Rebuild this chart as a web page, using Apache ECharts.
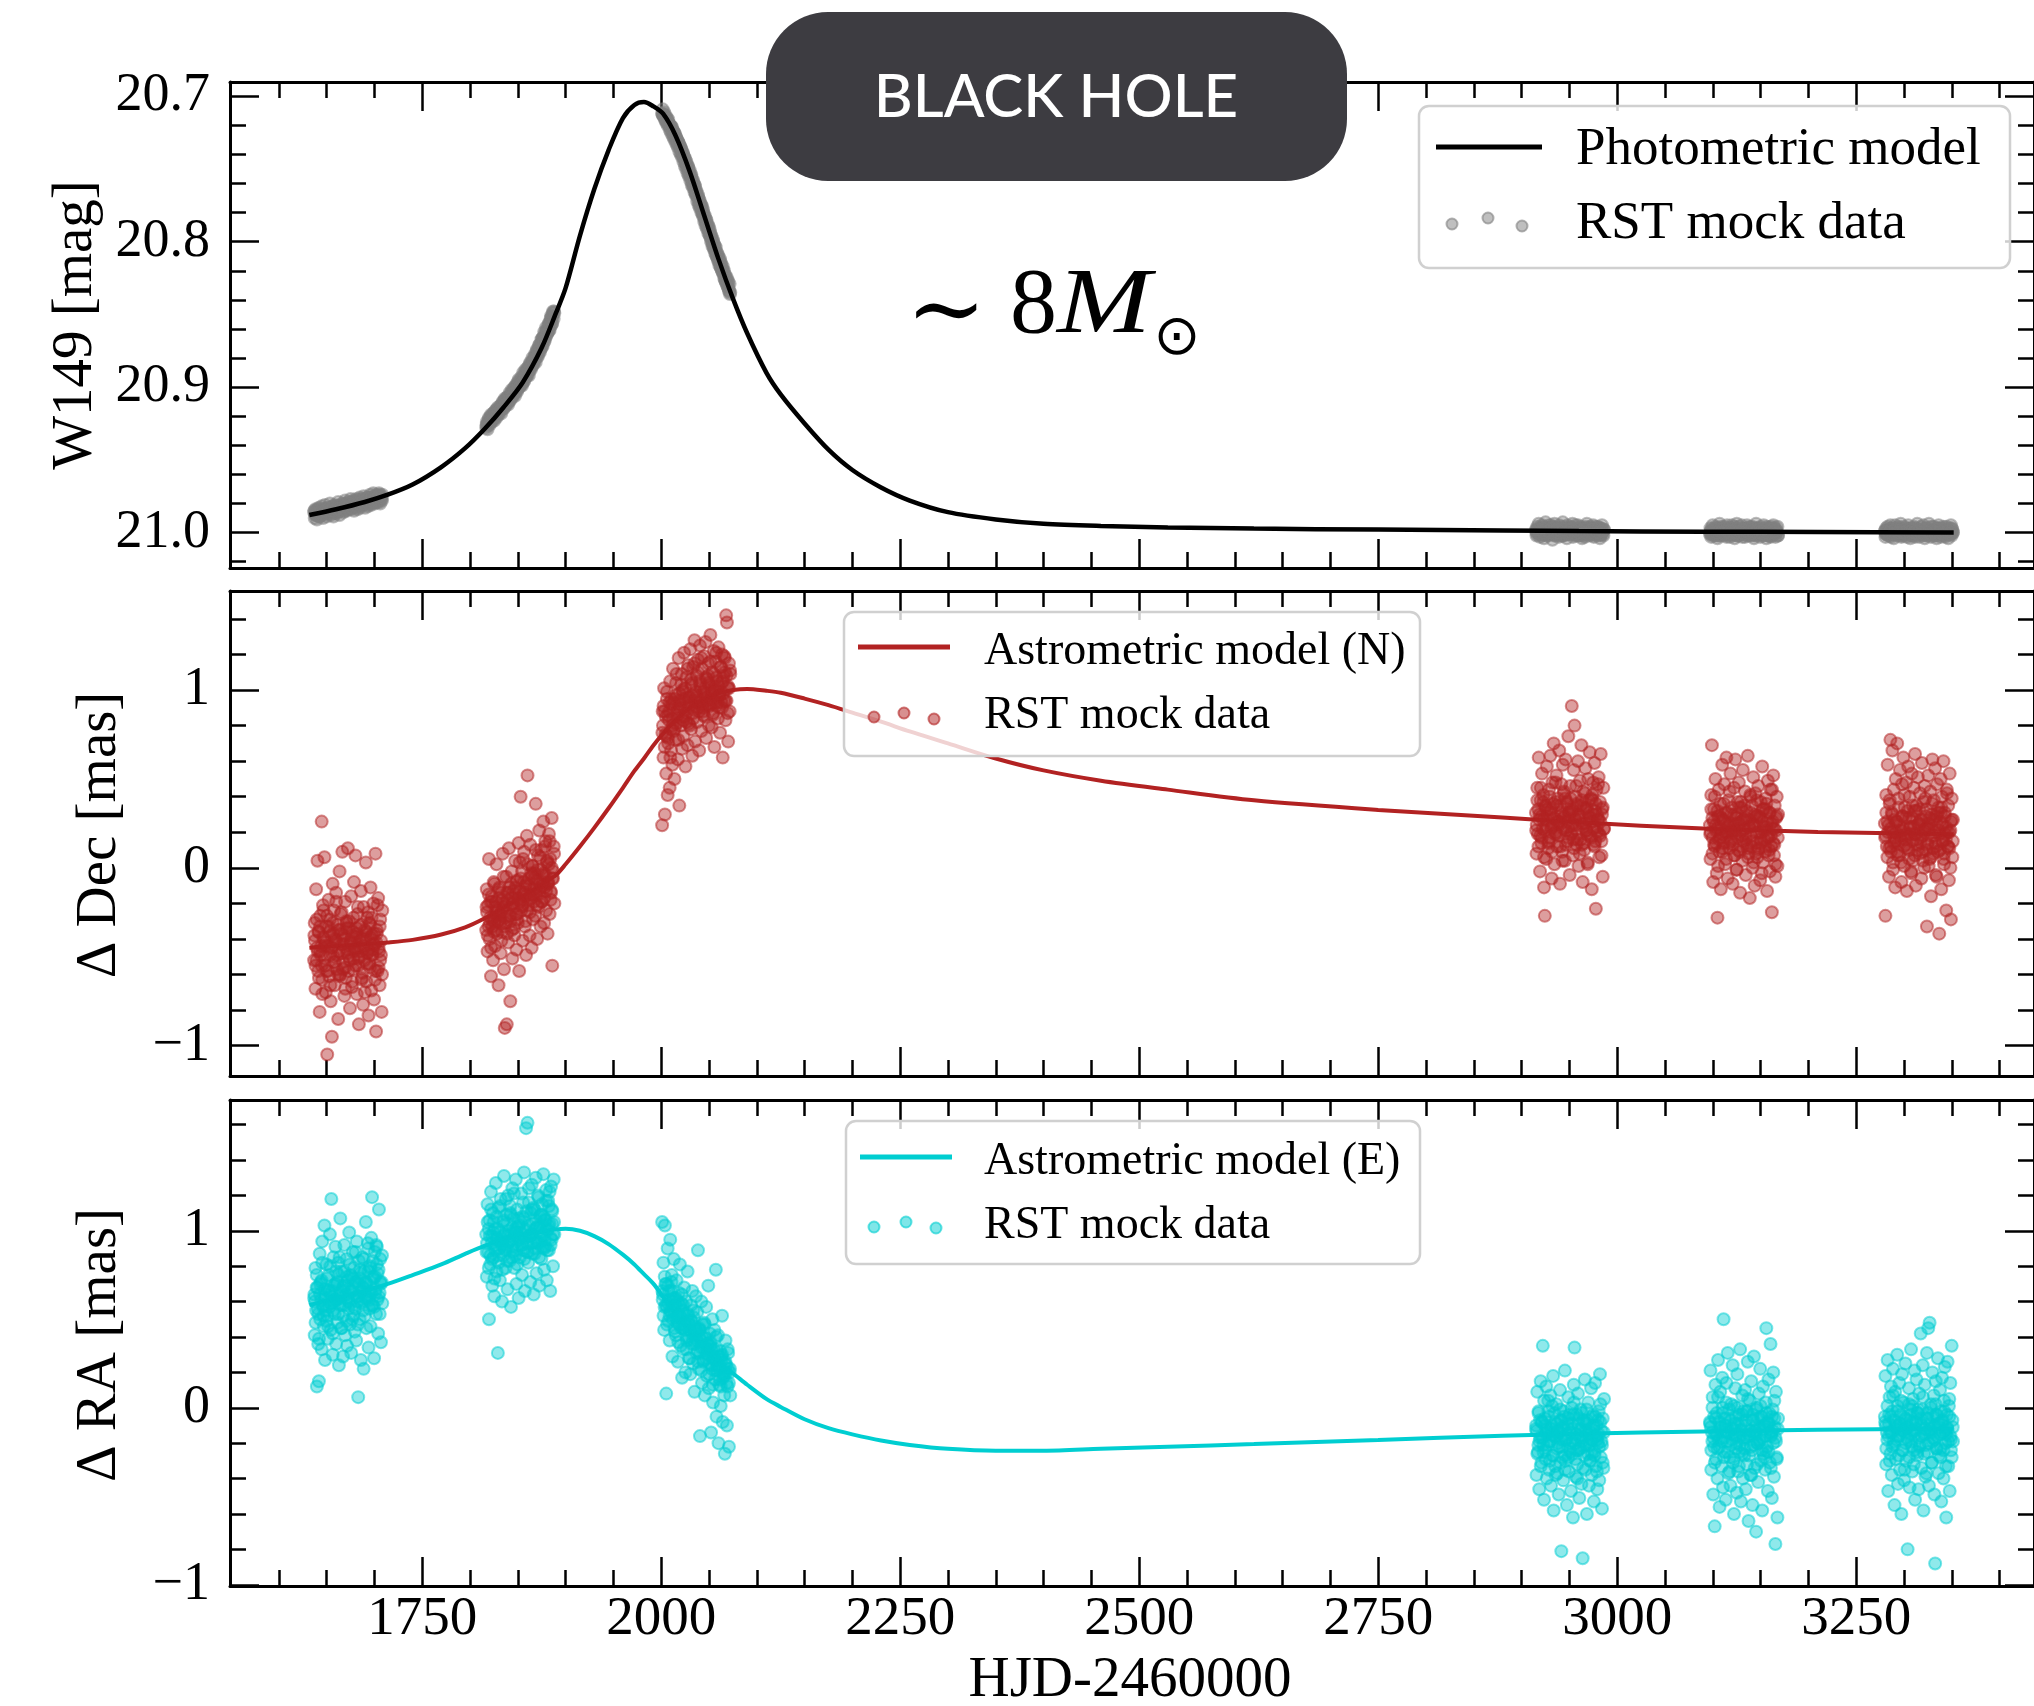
<!DOCTYPE html>
<html>
<head>
<meta charset="utf-8">
<script src="https://cdn.jsdelivr.net/npm/echarts@6/dist/echarts.min.js"></script>
<style>
html,body{margin:0;padding:0;background:#fff;}
#chart{width:2034px;height:1706px;}
</style>
</head>
<body>
<div id="chart"></div>
<script>
// ---- Model curves (photometry, astrometric N and E offsets) ----
const modelTime = [1632,1660,1690,1714,1740,1770,1795,1815,1835,1855,1875,1890,1900,1915,1930,1945,1960,1972,1982,1992,
  2002,2015,2030,2045,2060,2075,2090,2110,2125,2150,2175,2200,2230,2260,2300,2350,2400,2460,2530,2620,
  2750,2880,2960,3090,3210,3352];
const modelMag = [20.988,20.984,20.979,20.974,20.967,20.955,20.942,20.929,20.914,20.897,20.873,20.849,20.832,20.796,20.764,20.737,20.715,20.706,20.704,20.707,
  20.712,20.727,20.752,20.782,20.812,20.839,20.863,20.890,20.905,20.925,20.943,20.957,20.969,20.978,20.986,20.991,20.994,20.9955,20.9965,20.9973,
  20.998,20.9986,20.999,20.9994,20.9997,21.0];
const modelDec = [-0.45,-0.44,-0.43,-0.42,-0.405,-0.375,-0.335,-0.285,-0.225,-0.16,-0.095,-0.04,0.02,0.12,0.225,0.335,0.45,0.545,0.615,0.69,
  0.755,0.83,0.90,0.95,0.982,1.0,1.006,0.996,0.985,0.952,0.915,0.873,0.822,0.767,0.70,0.615,0.548,0.49,0.44,0.38,
  0.326,0.283,0.256,0.221,0.202,0.189];
const modelRa = [0.58,0.62,0.66,0.70,0.75,0.81,0.87,0.915,0.95,0.975,0.995,1.008,1.011,1.0,0.97,0.925,0.865,0.81,0.755,0.70,
  0.627,0.53,0.425,0.33,0.255,0.195,0.13,0.05,0.005,-0.065,-0.115,-0.15,-0.185,-0.21,-0.232,-0.243,-0.243,-0.232,-0.22,-0.205,
  -0.182,-0.158,-0.147,-0.134,-0.124,-0.117];

// ---- RST mock observations: epochs (six seasons, three visit passes) ----
const obsTime = [
  // pass 1, season 1
  1637.0,1637.6,1638.4,1639.1,1639.9,1640.5,1641.3,1642.0,1642.8,1643.4,1644.2,1644.9,1645.5,1646.3,1647.1,1647.8,1648.4,1649.2,1649.9,1650.7,
  1651.3,1652.1,1652.8,1653.5,1654.3,1655.0,1655.6,1656.4,1657.2,1657.9,1658.5,1659.3,1660.0,1660.8,1661.4,1662.2,1662.9,1663.6,1664.4,1665.1,
  1665.7,1666.5,1667.3,1668.0,1668.6,1669.4,1670.1,1670.9,1671.5,1672.3,1673.0,1673.7,1674.5,1675.2,1675.8,1676.6,1677.4,1678.1,1678.7,1679.5,
  1680.2,1681.0,1681.6,1682.4,1683.1,1683.8,1684.6,1685.3,1685.9,1686.7,1687.5,1688.2,1688.8,1689.6,1690.3,1691.1,1691.7,1692.5,1693.2,1693.9,
  1694.7,1695.4,1696.0,1696.8,1697.6,1698.3,1698.9,1699.7,1700.4,1701.2,1701.8,1702.6,1703.3,1704.0,1704.8,1705.5,1706.1,1706.9,1707.6,1708.3,
  // pass 1, season 2
  1817.0,1817.6,1818.4,1819.1,1819.9,1820.5,1821.3,1822.0,1822.8,1823.4,1824.2,1824.9,1825.5,1826.3,1827.1,1827.8,1828.4,1829.2,1829.9,1830.7,
  1831.3,1832.1,1832.8,1833.5,1834.3,1835.0,1835.6,1836.4,1837.2,1837.9,1838.5,1839.3,1840.0,1840.8,1841.4,1842.2,1842.9,1843.6,1844.4,1845.1,
  1845.7,1846.5,1847.3,1848.0,1848.6,1849.4,1850.1,1850.9,1851.5,1852.3,1853.0,1853.7,1854.5,1855.2,1855.8,1856.6,1857.4,1858.1,1858.7,1859.5,
  1860.2,1861.0,1861.6,1862.4,1863.1,1863.8,1864.6,1865.3,1865.9,1866.7,1867.5,1868.2,1868.8,1869.6,1870.3,1871.1,1871.7,1872.5,1873.2,1873.9,
  1874.7,1875.4,1876.0,1876.8,1877.6,1878.3,1878.9,1879.7,1880.4,1881.2,1881.8,1882.6,1883.3,1884.0,1884.8,1885.5,1886.1,1886.9,1887.6,1888.3,
  // pass 1, season 3
  2001.0,2001.6,2002.4,2003.1,2003.9,2004.5,2005.3,2006.0,2006.8,2007.4,2008.2,2008.9,2009.5,2010.3,2011.1,2011.8,2012.4,2013.2,2013.9,2014.7,
  2015.3,2016.1,2016.8,2017.5,2018.3,2019.0,2019.6,2020.4,2021.2,2021.9,2022.5,2023.3,2024.0,2024.8,2025.4,2026.2,2026.9,2027.6,2028.4,2029.1,
  2029.7,2030.5,2031.3,2032.0,2032.6,2033.4,2034.1,2034.9,2035.5,2036.3,2037.0,2037.7,2038.5,2039.2,2039.8,2040.6,2041.4,2042.1,2042.7,2043.5,
  2044.2,2045.0,2045.6,2046.4,2047.1,2047.8,2048.6,2049.3,2049.9,2050.7,2051.5,2052.2,2052.8,2053.6,2054.3,2055.1,2055.7,2056.5,2057.2,2057.9,
  2058.7,2059.4,2060.0,2060.8,2061.6,2062.3,2062.9,2063.7,2064.4,2065.2,2065.8,2066.6,2067.3,2068.0,2068.8,2069.5,2070.1,2070.9,2071.6,2072.3,
  // pass 1, season 4
  2915.0,2915.6,2916.4,2917.1,2917.9,2918.5,2919.3,2920.0,2920.8,2921.4,2922.2,2922.9,2923.5,2924.3,2925.1,2925.8,2926.4,2927.2,2927.9,2928.7,
  2929.3,2930.1,2930.8,2931.5,2932.3,2933.0,2933.6,2934.4,2935.2,2935.9,2936.5,2937.3,2938.0,2938.8,2939.4,2940.2,2940.9,2941.6,2942.4,2943.1,
  2943.7,2944.5,2945.3,2946.0,2946.6,2947.4,2948.1,2948.9,2949.5,2950.3,2951.0,2951.7,2952.5,2953.2,2953.8,2954.6,2955.4,2956.1,2956.7,2957.5,
  2958.2,2959.0,2959.6,2960.4,2961.1,2961.8,2962.6,2963.3,2963.9,2964.7,2965.5,2966.2,2966.8,2967.6,2968.3,2969.1,2969.7,2970.5,2971.2,2971.9,
  2972.7,2973.4,2974.0,2974.8,2975.6,2976.3,2976.9,2977.7,2978.4,2979.2,2979.8,2980.6,2981.3,2982.0,2982.8,2983.5,2984.1,2984.9,2985.6,2986.3,
  // pass 1, season 5
  3097.0,3097.6,3098.4,3099.1,3099.9,3100.5,3101.3,3102.0,3102.8,3103.4,3104.2,3104.9,3105.5,3106.3,3107.1,3107.8,3108.4,3109.2,3109.9,3110.7,
  3111.3,3112.1,3112.8,3113.5,3114.3,3115.0,3115.6,3116.4,3117.2,3117.9,3118.5,3119.3,3120.0,3120.8,3121.4,3122.2,3122.9,3123.6,3124.4,3125.1,
  3125.7,3126.5,3127.3,3128.0,3128.6,3129.4,3130.1,3130.9,3131.5,3132.3,3133.0,3133.7,3134.5,3135.2,3135.8,3136.6,3137.4,3138.1,3138.7,3139.5,
  3140.2,3141.0,3141.6,3142.4,3143.1,3143.8,3144.6,3145.3,3145.9,3146.7,3147.5,3148.2,3148.8,3149.6,3150.3,3151.1,3151.7,3152.5,3153.2,3153.9,
  3154.7,3155.4,3156.0,3156.8,3157.6,3158.3,3158.9,3159.7,3160.4,3161.2,3161.8,3162.6,3163.3,3164.0,3164.8,3165.5,3166.1,3166.9,3167.6,3168.3,
  // pass 1, season 6
  3280.0,3280.6,3281.4,3282.1,3282.9,3283.5,3284.3,3285.0,3285.8,3286.4,3287.2,3287.9,3288.5,3289.3,3290.1,3290.8,3291.4,3292.2,3292.9,3293.7,
  3294.3,3295.1,3295.8,3296.5,3297.3,3298.0,3298.6,3299.4,3300.2,3300.9,3301.5,3302.3,3303.0,3303.8,3304.4,3305.2,3305.9,3306.6,3307.4,3308.1,
  3308.7,3309.5,3310.3,3311.0,3311.6,3312.4,3313.1,3313.9,3314.5,3315.3,3316.0,3316.7,3317.5,3318.2,3318.8,3319.6,3320.4,3321.1,3321.7,3322.5,
  3323.2,3324.0,3324.6,3325.4,3326.1,3326.8,3327.6,3328.3,3328.9,3329.7,3330.5,3331.2,3331.8,3332.6,3333.3,3334.1,3334.7,3335.5,3336.2,3336.9,
  3337.7,3338.4,3339.0,3339.8,3340.6,3341.3,3341.9,3342.7,3343.4,3344.2,3344.8,3345.6,3346.3,3347.0,3347.8,3348.5,3349.1,3349.9,3350.6,3351.3,
  // pass 2, season 1
  1637.3,1638.5,1639.7,1640.8,1642.1,1643.2,1644.5,1645.6,1646.8,1648.0,1649.3,1650.4,1651.6,1652.9,1654.0,1655.2,1656.5,1657.6,1658.8,1660.1,
  1661.2,1662.4,1663.7,1664.8,1666.0,1667.3,1668.4,1669.6,1670.9,1672.0,1673.2,1674.5,1675.6,1676.8,1678.1,1679.2,1680.4,1681.7,1682.8,1684.0,
  1685.3,1686.4,1687.6,1688.9,1690.0,1691.2,1692.5,1693.6,1694.8,1696.1,1697.2,1698.4,1699.7,1700.8,1702.0,1703.3,1704.4,1705.6,1706.9,1708.0,
  // pass 2, season 2
  1817.3,1818.5,1819.7,1820.8,1822.1,1823.2,1824.5,1825.6,1826.8,1828.0,1829.3,1830.4,1831.6,1832.9,1834.0,1835.2,1836.5,1837.6,1838.8,1840.1,
  1841.2,1842.4,1843.7,1844.8,1846.0,1847.3,1848.4,1849.6,1850.9,1852.0,1853.2,1854.5,1855.6,1856.8,1858.1,1859.2,1860.4,1861.7,1862.8,1864.0,
  1865.3,1866.4,1867.6,1868.9,1870.0,1871.2,1872.5,1873.6,1874.8,1876.1,1877.2,1878.4,1879.7,1880.8,1882.0,1883.3,1884.4,1885.6,1886.9,1888.0,
  // pass 2, season 3
  2001.3,2002.5,2003.7,2004.8,2006.1,2007.2,2008.5,2009.6,2010.8,2012.0,2013.3,2014.4,2015.6,2016.9,2018.0,2019.2,2020.5,2021.6,2022.8,2024.1,
  2025.2,2026.4,2027.7,2028.8,2030.0,2031.3,2032.4,2033.6,2034.9,2036.0,2037.2,2038.5,2039.6,2040.8,2042.1,2043.2,2044.4,2045.7,2046.8,2048.0,
  2049.3,2050.4,2051.6,2052.9,2054.0,2055.2,2056.5,2057.6,2058.8,2060.1,2061.2,2062.4,2063.7,2064.8,2066.0,2067.3,2068.4,2069.6,2070.9,2072.0,
  // pass 2, season 4
  2915.3,2916.5,2917.7,2918.8,2920.1,2921.2,2922.5,2923.6,2924.8,2926.0,2927.3,2928.4,2929.6,2930.9,2932.0,2933.2,2934.5,2935.6,2936.8,2938.1,
  2939.2,2940.4,2941.7,2942.8,2944.0,2945.3,2946.4,2947.6,2948.9,2950.0,2951.2,2952.5,2953.6,2954.8,2956.1,2957.2,2958.4,2959.7,2960.8,2962.0,
  2963.3,2964.4,2965.6,2966.9,2968.0,2969.2,2970.5,2971.6,2972.8,2974.1,2975.2,2976.4,2977.7,2978.8,2980.0,2981.3,2982.4,2983.6,2984.9,2986.0,
  // pass 2, season 5
  3097.3,3098.5,3099.7,3100.8,3102.1,3103.2,3104.5,3105.6,3106.8,3108.0,3109.3,3110.4,3111.6,3112.9,3114.0,3115.2,3116.5,3117.6,3118.8,3120.1,
  3121.2,3122.4,3123.7,3124.8,3126.0,3127.3,3128.4,3129.6,3130.9,3132.0,3133.2,3134.5,3135.6,3136.8,3138.1,3139.2,3140.4,3141.7,3142.8,3144.0,
  3145.3,3146.4,3147.6,3148.9,3150.0,3151.2,3152.5,3153.6,3154.8,3156.1,3157.2,3158.4,3159.7,3160.8,3162.0,3163.3,3164.4,3165.6,3166.9,3168.0,
  // pass 2, season 6
  3280.3,3281.5,3282.7,3283.8,3285.1,3286.2,3287.5,3288.6,3289.8,3291.0,3292.3,3293.4,3294.6,3295.9,3297.0,3298.2,3299.5,3300.6,3301.8,3303.1,
  3304.2,3305.4,3306.7,3307.8,3309.0,3310.3,3311.4,3312.6,3313.9,3315.0,3316.2,3317.5,3318.6,3319.8,3321.1,3322.2,3323.4,3324.7,3325.8,3327.0,
  3328.3,3329.4,3330.6,3331.9,3333.0,3334.2,3335.5,3336.6,3337.8,3339.1,3340.2,3341.4,3342.7,3343.8,3345.0,3346.3,3347.4,3348.6,3349.9,3351.0,
  // pass 3, season 1
  1637.9,1639.6,1641.4,1643.1,1644.9,1646.6,1648.4,1650.1,1651.9,1653.6,1655.4,1657.1,1658.9,1660.6,1662.4,1664.1,1665.9,1667.6,1669.4,1671.1,
  1672.9,1674.6,1676.4,1678.1,1679.9,1681.6,1683.4,1685.1,1686.9,1688.6,1690.4,1692.1,1693.9,1695.6,1697.4,1699.1,1700.9,1702.6,1704.4,1706.1,
  // pass 3, season 2
  1817.9,1819.6,1821.4,1823.1,1824.9,1826.6,1828.4,1830.1,1831.9,1833.6,1835.4,1837.1,1838.9,1840.6,1842.4,1844.1,1845.9,1847.6,1849.4,1851.1,
  1852.9,1854.6,1856.4,1858.1,1859.9,1861.6,1863.4,1865.1,1866.9,1868.6,1870.4,1872.1,1873.9,1875.6,1877.4,1879.1,1880.9,1882.6,1884.4,1886.1,
  // pass 3, season 3
  2001.9,2003.6,2005.4,2007.1,2008.9,2010.6,2012.4,2014.1,2015.9,2017.6,2019.4,2021.1,2022.9,2024.6,2026.4,2028.1,2029.9,2031.6,2033.4,2035.1,
  2036.9,2038.6,2040.4,2042.1,2043.9,2045.6,2047.4,2049.1,2050.9,2052.6,2054.4,2056.1,2057.9,2059.6,2061.4,2063.1,2064.9,2066.6,2068.4,2070.1,
  // pass 3, season 4
  2915.9,2917.6,2919.4,2921.1,2922.9,2924.6,2926.4,2928.1,2929.9,2931.6,2933.4,2935.1,2936.9,2938.6,2940.4,2942.1,2943.9,2945.6,2947.4,2949.1,
  2950.9,2952.6,2954.4,2956.1,2957.9,2959.6,2961.4,2963.1,2964.9,2966.6,2968.4,2970.1,2971.9,2973.6,2975.4,2977.1,2978.9,2980.6,2982.4,2984.1,
  // pass 3, season 5
  3097.9,3099.6,3101.4,3103.1,3104.9,3106.6,3108.4,3110.1,3111.9,3113.6,3115.4,3117.1,3118.9,3120.6,3122.4,3124.1,3125.9,3127.6,3129.4,3131.1,
  3132.9,3134.6,3136.4,3138.1,3139.9,3141.6,3143.4,3145.1,3146.9,3148.6,3150.4,3152.1,3153.9,3155.6,3157.4,3159.1,3160.9,3162.6,3164.4,3166.1,
  // pass 3, season 6
  3280.9,3282.6,3284.4,3286.1,3287.9,3289.6,3291.4,3293.1,3294.9,3296.6,3298.4,3300.1,3301.9,3303.6,3305.4,3307.1,3308.9,3310.6,3312.4,3314.1,
  3315.9,3317.6,3319.4,3321.1,3322.9,3324.6,3326.4,3328.1,3329.9,3331.6,3333.4,3335.1,3336.9,3338.6,3340.4,3342.1,3343.9,3345.6,3347.4,3349.1
];

// W149 magnitude at each epoch
const obsMag = [
  // pass 1, season 1
  20.986,20.990,20.984,20.988,20.991,20.985,20.987,20.983,20.989,20.986,20.988,20.982,20.986,20.990,20.984,20.987,20.981,20.985,20.989,20.986,
  20.983,20.987,20.985,20.980,20.988,20.984,20.986,20.982,20.989,20.985,20.981,20.986,20.983,20.987,20.984,20.979,20.985,20.988,20.982,20.984,
  20.984,20.980,20.983,20.986,20.981,20.978,20.983,20.985,20.980,20.982,20.979,20.983,20.981,20.977,20.984,20.980,20.982,20.978,20.985,20.981,
  20.982,20.977,20.980,20.984,20.978,20.981,20.976,20.983,20.979,20.980,20.977,20.981,20.975,20.979,20.983,20.978,20.980,20.976,20.982,20.978,
  20.979,20.974,20.978,20.981,20.976,20.979,20.973,20.977,20.980,20.976,20.974,20.978,20.975,20.979,20.973,20.976,20.980,20.975,20.977,20.974,
  // pass 1, season 2
  20.928,20.924,20.929,20.925,20.921,20.926,20.923,20.919,20.924,20.921,20.922,20.918,20.923,20.919,20.916,20.921,20.917,20.914,20.919,20.915,
  20.917,20.913,20.918,20.914,20.910,20.915,20.912,20.908,20.913,20.910,20.911,20.907,20.912,20.908,20.904,20.909,20.905,20.902,20.907,20.903,
  20.905,20.900,20.906,20.902,20.898,20.903,20.899,20.895,20.900,20.896,20.898,20.893,20.899,20.895,20.890,20.896,20.891,20.888,20.893,20.889,
  20.891,20.886,20.892,20.887,20.883,20.888,20.884,20.880,20.885,20.881,20.882,20.877,20.883,20.878,20.874,20.879,20.875,20.871,20.876,20.872,
  20.873,20.867,20.872,20.866,20.862,20.868,20.863,20.859,20.864,20.860,20.862,20.856,20.861,20.855,20.851,20.857,20.852,20.848,20.853,20.849,
  // pass 1, season 3
  20.712,20.709,20.714,20.711,20.716,20.713,20.718,20.715,20.720,20.716,20.719,20.723,20.720,20.725,20.721,20.727,20.724,20.729,20.725,20.731,
  20.728,20.733,20.730,20.735,20.732,20.738,20.734,20.740,20.737,20.742,20.739,20.745,20.742,20.748,20.744,20.750,20.747,20.753,20.749,20.755,
  20.752,20.758,20.755,20.761,20.757,20.763,20.760,20.766,20.762,20.768,20.766,20.772,20.769,20.775,20.771,20.777,20.774,20.780,20.776,20.782,
  20.780,20.786,20.783,20.789,20.785,20.791,20.788,20.794,20.790,20.796,20.794,20.800,20.797,20.803,20.799,20.805,20.802,20.808,20.804,20.810,
  20.808,20.813,20.810,20.816,20.812,20.818,20.815,20.820,20.817,20.822,20.820,20.826,20.823,20.828,20.825,20.831,20.827,20.833,20.829,20.835,
  // pass 1, season 4
  20.998,21.002,20.996,21.000,20.994,20.999,21.003,20.997,21.001,20.995,21.000,20.996,21.004,20.998,20.993,21.001,20.997,21.002,20.999,20.995,
  20.997,21.001,20.995,20.999,21.005,20.996,21.000,20.994,21.002,20.998,21.001,20.997,20.999,21.003,20.995,21.000,20.996,21.002,20.998,20.993,
  20.999,21.002,20.996,21.001,20.998,21.004,20.995,20.999,21.001,20.997,20.996,21.000,20.998,20.994,21.003,20.997,21.001,20.999,20.995,21.002,
  21.000,20.995,21.002,20.998,21.001,20.996,20.999,21.004,20.997,21.000,20.998,21.003,20.996,21.000,20.994,21.001,20.997,21.002,20.999,20.996,
  21.001,20.997,21.000,20.995,21.003,20.999,20.996,21.001,20.998,21.002,20.996,21.000,20.998,21.004,20.997,21.001,20.995,20.999,21.002,20.998,
  // pass 1, season 5
  21.001,20.997,21.003,20.999,20.995,21.000,20.998,21.002,20.996,21.001,20.998,21.004,20.997,21.000,20.994,21.002,20.999,20.996,21.001,20.998,
  21.002,20.996,21.000,20.998,21.003,20.995,21.001,20.999,20.997,21.003,20.997,21.001,20.995,21.002,20.999,20.996,21.004,21.000,20.998,20.994,
  21.000,20.998,21.002,20.996,21.001,20.999,20.995,21.003,20.997,21.001,20.999,21.003,20.997,21.000,20.995,21.002,20.998,21.001,20.996,21.000,
  21.002,20.996,21.001,20.998,21.004,20.997,21.000,20.994,21.002,20.999,20.997,21.000,20.999,21.003,20.996,21.001,20.998,21.002,20.995,21.000,
  21.001,20.998,21.004,20.996,21.000,20.997,21.002,20.999,21.003,20.996,20.999,21.002,20.995,21.001,20.998,21.003,20.997,21.000,20.996,21.002,
  // pass 1, season 6
  20.999,21.003,20.997,21.001,20.996,21.002,20.998,21.000,20.995,21.003,21.001,20.997,21.000,21.004,20.998,20.995,21.002,20.999,21.001,20.997,
  20.996,21.001,20.999,20.994,21.003,20.998,21.000,21.002,20.996,21.001,21.000,20.997,21.003,20.999,20.995,21.001,20.998,21.004,20.997,21.000,
  20.998,21.002,20.996,21.000,21.003,20.997,21.001,20.994,21.000,20.998,21.003,20.999,21.001,20.996,21.000,21.002,20.995,20.999,21.004,20.998,
  20.997,21.000,21.002,20.998,20.994,21.001,20.999,21.003,20.996,21.001,21.001,20.996,20.999,21.002,20.998,21.004,20.997,21.000,20.995,21.002,
  20.998,21.003,21.000,20.997,21.001,20.996,21.002,20.999,21.003,20.996,21.000,20.998,21.004,20.999,20.997,21.001,20.995,21.002,20.998,21.000,
  // pass 2, season 1
  20.985,20.988,20.986,20.984,20.989,20.987,20.985,20.988,20.986,20.984,20.984,20.987,20.985,20.983,20.986,20.984,20.987,20.982,20.985,20.986,
  20.982,20.985,20.983,20.981,20.984,20.982,20.985,20.980,20.983,20.984,20.980,20.983,20.981,20.979,20.982,20.980,20.983,20.978,20.981,20.982,
  20.978,20.981,20.979,20.977,20.980,20.978,20.981,20.976,20.979,20.980,20.976,20.979,20.977,20.975,20.978,20.976,20.979,20.974,20.977,20.978,
  // pass 2, season 2
  20.926,20.925,20.922,20.924,20.920,20.921,20.918,20.920,20.916,20.917,20.917,20.916,20.913,20.915,20.911,20.912,20.909,20.911,20.907,20.908,
  20.908,20.906,20.904,20.905,20.901,20.902,20.899,20.900,20.896,20.897,20.898,20.896,20.893,20.894,20.890,20.891,20.887,20.888,20.884,20.885,
  20.884,20.882,20.879,20.879,20.875,20.875,20.871,20.871,20.867,20.866,20.867,20.865,20.862,20.861,20.858,20.856,20.853,20.852,20.849,20.848,
  // pass 2, season 3
  20.712,20.713,20.714,20.716,20.716,20.718,20.719,20.721,20.721,20.723,20.725,20.726,20.728,20.731,20.732,20.734,20.736,20.739,20.740,20.742,
  20.745,20.747,20.749,20.752,20.754,20.756,20.759,20.761,20.763,20.766,20.768,20.770,20.773,20.775,20.777,20.780,20.782,20.785,20.787,20.789,
  20.792,20.794,20.797,20.799,20.802,20.804,20.806,20.809,20.811,20.813,20.815,20.818,20.820,20.822,20.825,20.827,20.829,20.831,20.834,20.836,
  // pass 2, season 4
  20.999,21.001,20.997,21.000,20.998,21.002,20.999,20.997,21.001,20.999,21.000,20.998,21.001,20.997,21.000,20.999,21.002,20.998,21.000,20.997,
  20.998,21.001,20.999,21.002,20.997,21.000,20.998,21.001,20.999,21.000,21.001,20.997,21.000,20.999,21.002,20.998,21.000,20.997,21.001,20.999,
  20.999,21.002,20.998,21.000,20.997,21.001,20.999,21.000,20.998,21.002,21.000,20.998,21.001,20.999,21.000,20.997,21.002,20.999,21.001,20.998,
  // pass 2, season 5
  21.000,20.998,21.002,20.999,21.001,20.997,21.000,20.999,21.002,20.998,20.999,21.001,20.997,21.000,20.998,21.002,20.999,21.001,20.997,21.000,
  21.001,20.999,21.000,20.997,21.002,20.999,21.001,20.998,21.000,20.999,20.998,21.000,20.999,21.002,20.997,21.001,20.999,21.000,20.998,21.001,
  21.000,20.997,21.001,20.999,21.000,20.998,21.002,20.999,21.001,20.997,20.999,21.002,20.998,21.000,20.999,21.001,20.997,21.000,20.999,21.002,
  // pass 2, season 6
  20.999,21.001,20.998,21.000,21.002,20.999,20.997,21.001,21.000,20.998,21.001,20.999,21.000,20.997,21.001,21.002,20.999,21.000,20.998,21.001,
  20.998,21.000,21.002,20.999,20.997,21.001,21.000,20.998,21.002,20.999,21.000,20.998,21.001,21.000,20.999,20.997,21.002,21.001,20.999,21.000,
  20.999,21.002,20.999,20.998,21.001,21.000,20.997,21.000,21.001,20.998,21.001,20.999,21.000,21.002,20.998,21.000,20.999,21.001,20.997,21.000,
  // pass 3, season 1
  20.987,20.985,20.988,20.986,20.984,20.987,20.985,20.986,20.984,20.985,20.985,20.983,20.986,20.984,20.982,20.985,20.983,20.984,20.982,20.983,
  20.982,20.980,20.983,20.981,20.979,20.982,20.980,20.981,20.979,20.980,20.979,20.977,20.980,20.978,20.976,20.979,20.977,20.977,20.975,20.976,
  // pass 3, season 2
  20.927,20.925,20.924,20.922,20.921,20.920,20.918,20.917,20.916,20.914,20.914,20.912,20.911,20.910,20.908,20.906,20.905,20.903,20.902,20.900,
  20.899,20.897,20.896,20.893,20.892,20.889,20.887,20.885,20.883,20.880,20.879,20.876,20.874,20.871,20.869,20.866,20.863,20.861,20.858,20.856,
  // pass 3, season 3
  20.713,20.714,20.717,20.718,20.721,20.722,20.725,20.727,20.729,20.731,20.734,20.736,20.739,20.742,20.745,20.748,20.751,20.754,20.758,20.761,
  20.765,20.768,20.772,20.775,20.778,20.782,20.785,20.789,20.792,20.796,20.800,20.803,20.807,20.810,20.813,20.817,20.820,20.823,20.826,20.829,
  // pass 3, season 4
  21.000,20.998,21.001,20.999,21.000,20.998,21.002,20.999,21.000,20.997,20.999,21.001,20.998,21.000,20.999,21.002,20.998,21.000,20.999,21.001,
  20.998,21.000,20.999,21.001,20.997,21.000,20.999,21.002,20.998,21.000,21.001,20.999,21.000,20.998,21.001,20.999,21.000,20.997,21.001,20.999,
  // pass 3, season 5
  20.999,21.001,20.998,21.000,21.002,20.999,21.000,20.998,21.001,20.999,21.000,20.997,21.001,20.999,21.000,20.998,21.002,20.999,21.000,20.998,
  21.001,20.999,21.000,20.997,21.001,20.999,21.002,21.000,20.998,21.000,20.999,21.001,20.998,21.000,20.999,21.002,20.998,21.000,20.999,21.001,
  // pass 3, season 6
  21.001,20.999,21.000,20.998,21.001,20.999,20.997,21.000,21.002,20.999,21.000,20.998,21.001,20.999,21.000,21.002,20.998,21.000,20.999,21.001,
  20.999,21.000,20.998,21.001,20.999,21.000,20.997,21.001,20.999,21.000,21.002,20.998,21.000,20.999,21.001,20.998,21.000,20.999,21.001,21.000
];

// Declination offset (mas) at each epoch
const obsDec = [
  // pass 1, season 1
  -0.52,-0.31,-0.68,-0.12,-0.45,0.04,-0.58,-0.36,-0.81,-0.27,-0.49,0.26,-0.63,-0.21,-0.40,0.06,-0.55,-0.70,-0.33,-1.05,
  -0.44,-0.18,-0.61,-0.29,-0.75,-0.38,-0.95,-0.09,-0.50,-0.24,-0.66,-0.41,-0.14,-0.57,-0.32,-0.85,-0.47,-0.02,-0.60,-0.37,
  -0.25,0.09,-0.53,-0.43,-0.72,-0.19,-0.62,-0.34,-0.48,0.11,-0.58,-0.30,-0.79,-0.42,-0.16,-0.67,-0.36,-0.51,-0.08,-0.45,
  0.07,-0.39,-0.71,-0.26,-0.55,-0.88,-0.33,-0.47,-0.13,-0.63,-0.40,-0.77,-0.22,-0.52,-0.35,0.03,-0.64,-0.28,-0.46,-0.83,
  -0.31,-0.56,-0.11,-0.69,-0.38,-0.49,-0.20,-0.74,-0.43,0.08,-0.92,-0.35,-0.58,-0.17,-0.47,-0.66,-0.29,-0.41,-0.81,-0.24,
  // pass 1, season 2
  -0.35,-0.12,-0.47,-0.21,0.05,-0.40,-0.28,-0.61,-0.16,-0.33,-0.52,-0.08,-0.30,-0.44,-0.19,0.02,-0.37,-0.25,-0.66,-0.11,
  -0.29,-0.48,-0.14,-0.36,0.08,-0.22,-0.57,-0.90,-0.31,-0.05,-0.88,-0.18,-0.42,0.11,-0.27,-0.75,-0.09,-0.35,-0.51,-0.20,
  -0.13,-0.38,0.04,-0.26,-0.46,-0.07,-0.31,0.14,-0.58,-0.19,0.40,-0.24,-0.02,-0.41,-0.15,0.09,-0.33,-0.10,-0.49,0.18,
  0.52,-0.21,-0.06,-0.38,0.13,-0.17,-0.45,0.01,-0.29,-0.12,-0.03,-0.27,0.36,-0.15,-0.40,0.07,-0.22,0.21,-0.09,-0.33,
  0.10,-0.19,-0.04,0.26,-0.31,-0.11,0.15,-0.24,0.03,-0.37,-0.08,0.19,-0.26,0.05,-0.14,0.28,-0.55,-0.02,0.12,-0.20,
  // pass 1, season 3
  0.24,0.88,0.62,1.01,0.30,0.75,0.53,0.95,0.41,0.70,0.83,0.45,1.05,0.66,0.92,0.58,1.12,0.77,0.50,0.97,
  0.72,1.09,0.88,0.61,1.18,0.35,0.94,0.80,1.03,0.67,1.00,0.74,1.21,0.85,0.57,1.07,0.93,0.69,1.14,0.81,
  0.96,1.23,0.78,1.04,0.63,1.13,0.89,1.28,0.71,0.99,1.08,0.82,1.17,0.93,0.66,1.25,1.01,0.77,1.12,0.90,
  0.86,1.19,0.98,1.27,0.73,1.06,0.92,1.15,0.80,1.03,1.31,0.95,0.79,1.10,0.87,1.22,0.68,1.02,1.16,0.91,
  1.05,0.84,1.24,0.97,0.76,1.13,0.93,1.20,0.62,1.08,0.94,1.18,0.83,1.42,1.38,1.01,0.71,1.15,0.88,1.09,
  // pass 1, season 4
  0.31,0.08,0.45,0.19,0.62,0.27,-0.02,0.38,0.14,0.53,0.22,0.41,-0.11,-0.27,0.35,0.05,0.57,0.29,0.11,0.44,
  0.17,0.63,0.33,-0.06,0.48,0.24,0.70,0.02,0.37,0.20,0.52,0.12,0.39,0.26,0.66,-0.09,0.31,0.47,0.09,0.58,
  0.28,0.43,0.04,0.61,0.21,0.36,0.15,0.74,0.30,-0.04,0.46,0.19,0.91,0.33,0.07,0.55,0.80,0.24,0.40,0.13,
  0.35,0.60,0.01,0.27,0.49,0.16,0.69,0.38,-0.08,0.23,0.10,0.42,0.56,0.21,0.34,0.03,0.50,0.29,0.65,0.18,
  0.39,-0.12,0.26,0.48,0.13,0.59,0.32,-0.23,0.44,0.20,0.27,0.51,0.06,0.37,0.64,0.15,0.30,-0.05,0.45,0.22,
  // pass 1, season 5
  0.24,0.05,0.41,0.69,0.17,-0.08,0.33,0.12,0.50,0.21,-0.03,-0.28,0.29,0.44,0.09,0.36,-0.12,0.19,0.58,0.27,
  0.14,0.47,0.02,0.31,0.62,0.20,-0.06,0.38,0.11,0.25,0.53,0.16,0.34,-0.09,0.23,0.45,0.07,0.61,0.28,-0.01,
  0.30,0.10,0.48,0.19,-0.14,0.37,0.26,0.04,0.55,0.15,0.22,0.43,-0.04,0.32,0.13,0.63,0.08,0.27,-0.17,0.40,
  0.18,0.35,0.00,0.51,0.24,-0.10,0.42,0.14,0.29,0.06,0.46,0.11,0.28,-0.07,0.37,0.20,0.57,0.03,0.33,0.16,
  0.09,0.39,0.23,-0.13,0.49,0.17,0.31,-0.02,0.44,0.12,-0.25,0.26,0.52,0.07,0.35,-0.05,0.21,0.40,0.01,0.30,
  // pass 1, season 6
  0.25,-0.27,0.41,0.12,0.58,0.20,-0.05,0.36,0.72,0.09,0.31,0.66,0.03,0.44,0.17,-0.11,0.50,0.26,0.70,0.14,
  0.39,0.07,0.55,0.21,-0.08,0.47,0.29,0.62,0.01,0.34,0.16,0.48,-0.13,0.32,0.57,0.10,0.40,0.23,-0.02,0.53,
  0.28,0.04,0.45,0.19,0.64,-0.10,0.35,0.13,0.51,0.24,0.08,0.42,0.27,-0.06,0.59,0.18,0.37,0.00,0.46,0.22,
  0.33,-0.33,0.14,0.52,0.25,0.05,0.43,-0.16,0.30,0.61,0.11,0.38,0.20,0.56,-0.04,0.29,0.47,0.09,0.34,-0.37,
  0.26,0.50,-0.12,0.40,0.15,0.60,0.02,0.31,0.19,-0.24,0.44,0.12,0.35,-0.07,0.53,0.21,-0.29,0.39,0.06,0.27,
  // pass 2, season 1
  -0.38,-0.55,-0.29,-0.47,-0.62,-0.33,-0.44,-0.71,-0.24,-0.51,-0.42,-0.27,-0.58,-0.36,-0.66,-0.45,-0.31,-0.53,-0.40,-0.19,
  -0.49,-0.35,-0.61,-0.26,-0.43,-0.57,-0.38,-0.68,-0.30,-0.46,-0.34,-0.52,-0.41,-0.64,-0.28,-0.47,-0.55,-0.37,-0.22,-0.50,
  -0.45,-0.32,-0.59,-0.40,-0.70,-0.36,-0.48,-0.25,-0.54,-0.39,-0.28,-0.46,-0.37,-0.63,-0.42,-0.21,-0.56,-0.33,-0.49,-0.60,
  // pass 2, season 2
  -0.22,-0.38,-0.15,-0.31,-0.45,-0.19,-0.28,-0.09,-0.35,-0.24,-0.30,-0.12,-0.26,-0.41,-0.18,-0.05,-0.33,-0.21,-0.37,-0.14,
  -0.11,-0.27,-0.02,-0.20,-0.34,-0.15,-0.08,-0.29,-0.17,0.03,-0.06,-0.22,0.05,-0.14,-0.30,-0.09,0.02,-0.18,-0.25,-0.03,
  0.01,-0.15,-0.06,0.10,-0.21,-0.01,-0.12,0.06,-0.19,-0.08,-0.03,0.12,-0.13,0.04,-0.09,0.15,-0.18,0.00,-0.06,0.08,
  // pass 2, season 3
  0.76,0.91,0.68,0.85,0.99,0.73,0.88,0.62,0.95,0.80,0.93,0.79,1.04,0.86,0.72,0.98,0.90,1.09,0.83,0.95,
  1.01,0.87,1.12,0.94,0.80,1.06,0.97,0.84,1.15,0.91,0.96,1.10,0.88,1.03,1.18,0.92,0.99,0.85,1.07,0.94,
  1.04,0.91,1.16,0.98,0.86,1.09,1.00,1.21,0.93,1.02,0.97,1.13,0.90,1.05,1.19,0.94,1.08,0.87,1.01,1.11,
  // pass 2, season 4
  0.21,0.38,0.12,0.30,0.45,0.17,0.27,0.06,0.34,0.24,0.33,0.15,0.40,0.22,0.09,0.36,0.28,0.48,0.19,0.26,
  0.18,0.35,0.25,0.04,0.42,0.29,0.13,0.37,0.23,0.31,0.39,0.20,0.32,0.11,0.27,0.46,0.16,0.30,0.08,0.35,
  0.25,0.43,0.14,0.33,0.21,0.02,0.38,0.28,0.17,0.41,0.30,0.12,0.36,0.23,0.47,0.19,0.26,0.07,0.34,0.22,
  // pass 2, season 5
  0.19,0.33,0.08,0.26,0.40,0.14,0.22,0.01,0.29,0.17,0.28,0.11,0.36,0.20,0.05,0.31,0.24,0.43,0.15,0.21,
  0.13,0.30,0.21,-0.01,0.37,0.25,0.09,0.34,0.18,0.27,0.35,0.16,0.28,0.06,0.23,0.41,0.12,0.25,0.03,0.30,
  0.20,0.38,0.10,0.29,0.16,-0.03,0.33,0.23,0.12,0.36,0.26,0.07,0.31,0.18,0.44,0.14,0.22,0.02,0.29,0.17,
  // pass 2, season 6
  0.17,0.31,0.06,0.24,0.38,0.12,0.20,-0.01,0.27,0.15,0.26,0.09,0.34,0.18,0.03,0.29,0.22,0.41,0.13,0.19,
  0.11,0.28,0.19,-0.03,0.35,0.23,0.07,0.32,0.16,0.25,0.33,0.14,0.26,0.04,0.21,0.39,0.10,0.23,0.01,0.28,
  0.18,0.36,0.08,0.27,0.14,-0.05,0.31,0.21,0.10,0.34,0.24,0.05,0.29,0.16,0.42,0.12,0.20,0.00,0.27,0.15,
  // pass 3, season 1
  -0.41,-0.52,-0.36,-0.47,-0.55,-0.39,-0.44,-0.58,-0.33,-0.49,-0.45,-0.37,-0.53,-0.42,-0.60,-0.35,-0.48,-0.40,-0.56,-0.31,
  -0.50,-0.43,-0.38,-0.57,-0.46,-0.34,-0.51,-0.41,-0.62,-0.44,-0.39,-0.54,-0.47,-0.32,-0.49,-0.43,-0.58,-0.37,-0.45,-0.52,
  // pass 3, season 2
  -0.25,-0.33,-0.19,-0.29,-0.36,-0.22,-0.27,-0.17,-0.31,-0.24,-0.20,-0.28,-0.14,-0.23,-0.30,-0.17,-0.22,-0.11,-0.26,-0.18,
  -0.13,-0.21,-0.08,-0.16,-0.24,-0.10,-0.15,-0.04,-0.19,-0.11,-0.07,-0.15,-0.01,-0.10,-0.17,-0.04,-0.09,0.02,-0.13,-0.06,
  // pass 3, season 3
  0.80,0.88,0.74,0.86,0.93,0.78,0.84,0.95,0.81,0.89,0.92,0.85,0.99,0.89,0.82,0.96,0.91,1.03,0.87,0.94,
  0.97,0.90,1.05,0.94,0.88,1.01,0.96,1.08,0.92,0.99,1.00,0.93,1.07,0.97,0.90,1.04,0.98,1.10,0.94,1.02,
  // pass 3, season 4
  0.24,0.33,0.18,0.29,0.37,0.21,0.27,0.14,0.31,0.23,0.28,0.19,0.35,0.25,0.12,0.30,0.22,0.39,0.26,0.17,
  0.32,0.24,0.16,0.28,0.36,0.20,0.29,0.13,0.34,0.25,0.19,0.31,0.26,0.38,0.22,0.15,0.30,0.27,0.18,0.33,
  // pass 3, season 5
  0.20,0.28,0.13,0.24,0.32,0.16,0.22,0.09,0.26,0.18,0.23,0.14,0.30,0.20,0.07,0.25,0.17,0.34,0.21,0.12,
  0.27,0.19,0.11,0.23,0.31,0.15,0.24,0.08,0.29,0.20,0.14,0.26,0.21,0.33,0.17,0.10,0.25,0.22,0.13,0.28,
  // pass 3, season 6
  0.18,0.26,0.11,0.22,0.30,0.14,0.20,0.07,0.24,0.16,0.21,0.12,0.28,0.18,0.05,0.23,0.15,0.32,0.19,0.10,
  0.25,0.17,0.09,0.21,0.29,0.13,0.22,0.06,0.27,0.18,0.12,0.24,0.19,0.31,0.15,0.08,0.23,0.20,0.11,0.26
];

// Right-ascension offset (mas) at each epoch
const obsRa = [
  // pass 1, season 1
  0.62,0.41,0.79,0.55,0.12,0.68,0.36,0.15,0.87,0.50,0.71,0.33,0.94,0.58,0.46,1.03,0.27,0.64,0.81,0.52,
  0.39,0.75,0.57,0.98,0.44,1.18,0.66,0.30,0.85,0.60,0.53,0.91,0.36,0.70,0.48,0.82,0.24,0.63,1.07,0.45,
  0.77,0.58,0.29,0.69,0.92,0.41,0.64,0.84,0.35,0.72,0.56,0.99,0.47,0.75,0.31,0.66,0.88,0.52,0.79,0.43,
  0.71,0.38,0.94,0.60,0.06,0.83,0.50,0.73,0.27,0.66,0.85,0.55,0.22,0.77,0.62,1.05,0.45,0.70,0.93,0.34,
  0.61,0.80,0.46,0.96,1.19,0.58,0.74,0.28,0.88,0.67,0.53,0.91,0.76,0.42,1.12,0.65,0.84,0.37,0.71,0.59,
  // pass 1, season 2
  0.98,0.74,1.15,0.88,0.50,1.06,0.81,1.22,0.93,0.69,1.10,0.85,0.63,1.01,1.27,0.77,0.96,0.31,1.13,0.90,
  0.72,1.18,0.94,0.60,1.05,0.86,1.31,0.98,0.79,1.09,0.91,0.67,1.20,1.00,0.83,1.14,0.57,0.95,1.24,0.88,
  1.07,0.79,0.99,1.29,0.70,1.12,0.92,0.62,1.03,0.85,0.96,1.21,0.75,1.08,0.89,1.33,0.66,1.01,1.58,0.93,
  1.61,0.82,1.16,0.97,0.71,1.10,1.26,0.87,1.04,0.64,1.12,0.90,1.30,0.76,1.02,0.93,1.19,0.69,1.08,0.99,
  0.84,1.15,0.97,1.32,0.78,1.06,0.91,1.23,0.72,1.01,1.17,0.89,1.04,0.66,1.25,0.95,1.11,0.80,1.29,0.98,
  // pass 1, season 3
  1.05,0.61,0.82,0.44,1.03,0.70,0.08,0.57,0.90,0.49,0.66,0.38,0.95,0.54,0.75,0.29,0.62,0.84,0.45,0.58,
  0.41,0.72,0.52,0.26,0.65,0.47,0.81,0.35,0.59,0.17,0.55,0.33,0.68,0.44,0.20,0.60,0.38,0.77,0.49,0.28,
  0.47,0.19,0.58,0.36,0.66,0.25,0.51,0.09,0.42,0.63,0.31,0.54,0.89,0.22,0.45,-0.16,0.38,0.60,0.14,0.47,
  0.26,0.48,0.07,0.39,0.57,0.18,0.33,0.69,0.11,0.42,0.35,-0.14,0.22,0.50,0.03,0.29,0.44,0.16,0.78,-0.05,
  0.24,0.41,-0.20,0.13,0.32,0.01,0.27,0.52,-0.08,0.19,0.18,-0.26,0.38,0.24,-0.10,0.12,0.31,-0.22,0.20,0.07,
  // pass 1, season 4
  -0.12,-0.38,0.09,-0.25,-0.02,-0.46,-0.17,0.15,-0.31,-0.08,0.35,-0.21,-0.52,-0.06,-0.29,0.12,-0.40,-0.14,0.04,-0.35,
  -0.19,0.07,-0.44,-0.10,-0.27,0.18,-0.58,-0.03,-0.33,-0.16,0.02,-0.37,-0.13,-0.49,-0.22,0.10,-0.07,-0.81,-0.28,-0.11,
  -0.41,-0.05,0.21,-0.30,-0.18,-0.55,-0.09,0.06,-0.36,-0.23,-0.14,-0.47,0.00,-0.26,-0.62,0.13,0.34,-0.20,-0.39,-0.04,
  -0.32,0.08,-0.24,-0.51,-0.12,-0.01,-0.43,-0.19,-0.85,-0.07,-0.27,0.16,-0.35,-0.09,-0.60,-0.15,0.03,-0.44,-0.21,-0.30,
  0.11,-0.38,-0.18,-0.04,-0.53,-0.25,0.14,-0.33,-0.10,-0.46,-0.20,-0.02,-0.41,0.19,-0.28,-0.13,-0.57,-0.06,-0.34,0.05,
  // pass 1, season 5
  -0.08,0.21,-0.35,-0.14,0.06,-0.49,-0.22,-0.67,0.13,-0.29,-0.03,-0.40,0.27,-0.18,-0.56,0.09,-0.11,-0.33,0.17,-0.45,
  0.50,-0.25,-0.06,-0.52,0.14,-0.19,0.31,-0.37,-0.01,-0.28,-0.44,0.02,-0.15,0.24,-0.31,-0.60,-0.09,0.11,-0.23,-0.48,
  0.19,-0.36,-0.04,-0.21,0.33,-0.53,-0.12,0.07,-0.40,-0.17,-0.27,0.10,-0.46,-0.02,-0.32,0.26,-0.64,-0.16,0.04,-0.38,
  0.15,-0.24,-0.55,-0.07,0.29,-0.34,-0.13,-0.70,0.00,-0.20,-0.42,0.08,-0.18,0.22,-0.30,-0.05,-0.58,0.12,-0.26,-0.10,
  -0.35,0.03,0.45,-0.22,-0.47,0.16,-0.09,-0.31,0.36,-0.15,-0.51,-0.01,0.20,-0.39,-0.11,-0.77,0.09,-0.28,-0.62,-0.06,
  // pass 1, season 6
  -0.05,0.18,-0.32,-0.14,0.27,-0.47,-0.09,0.06,-0.26,0.12,-0.38,-0.02,0.22,-0.19,-0.55,0.09,-0.29,-0.11,0.30,-0.43,
  -0.16,0.14,-0.35,-0.04,-0.60,0.19,-0.24,0.03,-0.41,-0.12,0.25,-0.30,-0.07,-0.80,-0.18,0.11,-0.45,-0.01,0.33,-0.22,
  -0.36,0.05,-0.13,0.21,-0.52,-0.08,0.16,-0.27,-0.03,-0.46,0.08,-0.21,0.42,-0.34,-0.10,0.24,-0.58,-0.15,0.13,-0.39,
  -0.06,0.31,-0.25,0.45,-0.44,0.48,-0.12,0.02,-0.31,0.20,-0.17,0.07,-0.49,-0.88,0.15,-0.23,-0.04,0.28,-0.37,-0.09,
  0.10,-0.28,-0.53,0.17,-0.14,-0.40,0.04,0.23,-0.20,-0.62,-0.11,0.26,-0.33,0.01,-0.47,0.14,-0.24,0.35,-0.07,-0.19,
  // pass 2, season 1
  0.64,0.48,0.75,0.56,0.39,0.70,0.61,0.82,0.52,0.67,0.55,0.73,0.46,0.66,0.80,0.59,0.42,0.69,0.61,0.77,
  0.71,0.53,0.85,0.62,0.45,0.68,0.77,0.58,0.49,0.74,0.60,0.81,0.66,0.50,0.73,0.57,0.88,0.63,0.47,0.70,
  0.76,0.59,0.68,0.84,0.52,0.71,0.63,0.90,0.56,0.79,0.65,0.83,0.57,0.74,0.92,0.61,0.78,0.53,0.70,0.86,
  // pass 2, season 2
  0.88,1.05,0.79,0.97,1.12,0.84,0.99,0.73,0.92,1.08,1.01,0.86,1.14,0.93,0.78,1.06,0.90,1.18,0.83,0.97,
  0.94,1.10,0.85,1.02,1.21,0.89,0.99,0.81,1.07,0.96,1.05,0.92,1.16,0.84,1.00,1.11,0.88,1.24,0.97,0.93,
  0.98,1.13,0.87,1.06,0.94,1.20,0.85,1.02,1.09,0.91,1.08,0.95,1.17,0.89,1.03,1.22,0.92,1.12,0.98,1.05,
  // pass 2, season 3
  0.66,0.52,0.74,0.58,0.47,0.69,0.61,0.55,0.71,0.50,0.56,0.43,0.62,0.48,0.37,0.58,0.51,0.64,0.45,0.53,
  0.46,0.33,0.52,0.40,0.28,0.49,0.42,0.55,0.36,0.44,0.38,0.26,0.44,0.31,0.21,0.40,0.34,0.47,0.28,0.36,
  0.30,0.19,0.37,0.24,0.13,0.33,0.27,0.40,0.21,0.29,0.24,0.12,0.30,0.17,0.07,0.26,0.20,0.33,0.14,0.22,
  // pass 2, season 4
  -0.10,-0.26,-0.03,-0.19,-0.33,-0.08,-0.17,0.04,-0.24,-0.13,-0.21,-0.05,-0.30,-0.12,0.01,-0.27,-0.16,-0.38,-0.09,-0.20,
  -0.14,-0.31,-0.07,-0.22,-0.02,-0.35,-0.18,-0.11,-0.28,-0.04,-0.25,-0.09,-0.19,0.03,-0.29,-0.15,-0.40,-0.06,-0.23,-0.13,
  -0.17,-0.34,-0.08,-0.21,-0.01,-0.26,-0.12,-0.30,-0.18,-0.05,-0.11,-0.27,-0.16,-0.36,-0.07,-0.22,0.02,-0.19,-0.31,-0.14,
  // pass 2, season 5
  -0.09,-0.24,0.00,-0.17,-0.31,-0.06,-0.15,0.06,-0.22,-0.11,-0.19,-0.03,-0.28,-0.10,0.03,-0.25,-0.14,-0.36,-0.07,-0.18,
  -0.12,-0.29,-0.05,-0.20,0.00,-0.33,-0.16,-0.09,-0.26,-0.02,-0.23,-0.07,-0.17,0.05,-0.27,-0.13,-0.38,-0.04,-0.21,-0.11,
  -0.15,-0.32,-0.06,-0.19,0.01,-0.24,-0.10,-0.28,-0.16,-0.03,-0.09,-0.25,-0.14,-0.34,-0.05,-0.20,0.04,-0.17,-0.29,-0.12,
  // pass 2, season 6
  -0.08,-0.23,0.01,-0.16,-0.30,-0.05,-0.14,0.07,-0.21,-0.10,-0.18,-0.02,-0.27,-0.09,0.04,-0.24,-0.13,-0.35,-0.06,-0.17,
  -0.11,-0.28,-0.04,-0.19,0.01,-0.32,-0.15,-0.08,-0.25,-0.01,-0.22,-0.06,-0.16,0.06,-0.26,-0.12,-0.37,-0.03,-0.20,-0.10,
  -0.14,-0.31,-0.05,-0.18,0.02,-0.23,-0.09,-0.27,-0.15,-0.02,-0.08,-0.24,-0.13,-0.33,-0.04,-0.19,0.05,-0.16,-0.28,-0.11,
  // pass 3, season 1
  0.60,0.68,0.53,0.64,0.72,0.57,0.62,0.49,0.66,0.59,0.63,0.55,0.70,0.61,0.75,0.58,0.66,0.52,0.69,0.62,
  0.67,0.59,0.74,0.64,0.56,0.71,0.63,0.78,0.60,0.68,0.70,0.62,0.77,0.66,0.58,0.73,0.65,0.81,0.63,0.71,
  // pass 3, season 2
  0.93,1.01,0.86,0.97,1.05,0.89,0.95,0.82,0.99,0.92,0.97,0.89,1.04,0.94,1.09,0.91,1.00,0.86,1.02,0.95,
  0.99,0.92,1.07,0.96,0.88,1.03,0.98,1.12,0.94,1.01,1.02,0.94,1.09,0.98,0.90,1.06,1.00,1.14,0.96,1.04,
  // pass 3, season 3
  0.64,0.57,0.70,0.59,0.52,0.66,0.58,0.62,0.51,0.60,0.52,0.45,0.58,0.47,0.40,0.53,0.44,0.49,0.38,0.46,
  0.39,0.32,0.44,0.34,0.27,0.40,0.31,0.36,0.25,0.33,0.28,0.21,0.33,0.23,0.16,0.29,0.20,0.25,0.14,0.22,
  // pass 3, season 4
  -0.13,-0.21,-0.07,-0.17,-0.25,-0.10,-0.15,-0.02,-0.19,-0.12,-0.16,-0.08,-0.23,-0.14,-0.01,-0.18,-0.11,-0.27,-0.15,-0.06,
  -0.20,-0.12,-0.04,-0.17,-0.24,-0.09,-0.16,-0.03,-0.22,-0.13,-0.07,-0.19,-0.14,-0.26,-0.10,-0.05,-0.18,-0.15,-0.08,-0.21,
  // pass 3, season 5
  -0.11,-0.19,-0.05,-0.15,-0.23,-0.08,-0.13,0.00,-0.17,-0.10,-0.14,-0.06,-0.21,-0.12,0.01,-0.16,-0.09,-0.25,-0.13,-0.04,
  -0.18,-0.10,-0.02,-0.15,-0.22,-0.07,-0.14,-0.01,-0.20,-0.11,-0.05,-0.17,-0.12,-0.24,-0.08,-0.03,-0.16,-0.13,-0.06,-0.19,
  // pass 3, season 6
  -0.10,-0.18,-0.04,-0.14,-0.22,-0.07,-0.12,0.01,-0.16,-0.09,-0.13,-0.05,-0.20,-0.11,0.02,-0.15,-0.08,-0.24,-0.12,-0.03,
  -0.17,-0.09,-0.01,-0.14,-0.21,-0.06,-0.13,0.00,-0.19,-0.10,-0.04,-0.16,-0.11,-0.23,-0.07,-0.02,-0.15,-0.12,-0.05,-0.18
];

// ---- Axis ticks and ranges ----
const xMajor = [1750,2000,2250,2500,2750,3000,3250];
const xMinor = [1600,1650,1700,1800,1850,1900,1950,2050,2100,2150,2200,2300,2350,2400,2450,2550,2600,2650,2700,
  2800,2850,2900,2950,3050,3100,3150,3200,3300,3350,3400];
const magMajor = [20.7,20.8,20.9,21.0];
const magMinor = [20.72,20.74,20.76,20.78,20.82,20.84,20.86,20.88,20.92,20.94,20.96,20.98,21.02];
const masMajor = [-1,0,1];
const decMinor = [-0.8,-0.6,-0.4,-0.2,0.2,0.4,0.6,0.8,1.2,1.4];
const raMinor = [-0.8,-0.6,-0.4,-0.2,0.2,0.4,0.6,0.8,1.2,1.4,1.6];
const xRange = [1549, 3436];
const magRange = [20.6902, 21.0244];
const decRange = [-1.1706, 1.557];
const raRange = [-1.007, 1.739];

// ---- Layout / style ----
const SERIF = "'Liberation Serif','DejaVu Serif',serif";
const GRID_LEFT = 230, GRID_W = 1806;
const PANELS = [{top: 82, height: 486}, {top: 591, height: 485}, {top: 1100, height: 486}];
const RED = '#b22222', CYAN = '#00ced1', GRAY = '#808080';

function rgba(hex, a) {
  const n = parseInt(hex.slice(1), 16);
  return `rgba(${n >> 16},${(n >> 8) & 255},${n & 255},${a})`;
}
const tickStyle = (vals, len) => ({show: true, inside: true, length: len, customValues: vals,
  lineStyle: {color: '#000', width: 2.5}});
const spine = {show: true, onZero: false, lineStyle: {color: '#000', width: 3}};
const noSpine = {show: false, onZero: false};

function xAxesFor(gi, withLabels) {
  const base = {type: 'value', gridIndex: gi, min: xRange[0], max: xRange[1], splitLine: {show: false},
    axisLabel: {show: false}};
  return [
    Object.assign({}, base, {position: 'bottom', axisLine: spine, axisTick: tickStyle(xMajor, 29),
      axisLabel: withLabels ? {show: true, customValues: xMajor, formatter: v => String(v), margin: 6,
        color: '#000', fontFamily: SERIF, fontSize: 55} : {show: false}}),
    Object.assign({}, base, {position: 'bottom', axisLine: noSpine, axisTick: tickStyle(xMinor, 16)}),
    Object.assign({}, base, {position: 'top', axisLine: spine, axisTick: tickStyle(xMajor, 29)}),
    Object.assign({}, base, {position: 'top', axisLine: noSpine, axisTick: tickStyle(xMinor, 16)})
  ];
}
function yAxesFor(gi, range, major, minor, inverse, fmt) {
  const base = {type: 'value', gridIndex: gi, min: range[0], max: range[1], inverse: inverse,
    splitLine: {show: false}, axisLabel: {show: false}};
  return [
    Object.assign({}, base, {position: 'left', axisLine: spine, axisTick: tickStyle(major, 29),
      axisLabel: {show: true, customValues: major, formatter: fmt, margin: 20, color: '#000',
        fontFamily: SERIF, fontSize: 54}}),
    Object.assign({}, base, {position: 'left', axisLine: noSpine, axisTick: tickStyle(minor, 16)}),
    Object.assign({}, base, {position: 'right', axisLine: spine, axisTick: tickStyle(major, 29)}),
    Object.assign({}, base, {position: 'right', axisLine: noSpine, axisTick: tickStyle(minor, 16)})
  ];
}
const magFmt = v => Number(v).toFixed(1);
const masFmt = v => (v < 0 ? '\u2212' + Math.abs(v) : String(v));

const pairs = (xs, ys) => xs.map((x, i) => [x, ys[i]]);

function scatterSeries(gi, values, color, z) {
  return {type: 'scatter', xAxisIndex: gi * 4, yAxisIndex: gi * 4, data: pairs(obsTime, values),
    symbol: 'circle', symbolSize: 12, silent: true, z: z,
    itemStyle: {color: rgba(color, 0.55), borderColor: rgba(color, 0.65), borderWidth: 2}};
}
function modelSeries(gi, values, color, width, z) {
  return {type: 'line', xAxisIndex: gi * 4, yAxisIndex: gi * 4, data: pairs(modelTime, values),
    symbol: 'none', showSymbol: false, smooth: 0.3, silent: true, z: z,
    lineStyle: {color: color, width: width}};
}

// ---- Annotation / legend drawing helpers ----
function txt(x, y, text, size, opts) {
  const o = opts || {};
  return {type: 'text', x: x, y: y, rotation: o.rotation || 0, scaleX: o.scaleX || 1, z: 60, silent: true,
    style: {text: text, fill: o.fill || '#000', fontFamily: o.family || SERIF, fontSize: size,
      fontStyle: o.italic ? 'italic' : 'normal', fontWeight: o.weight || 'normal',
      align: o.align || 'left', textAlign: o.align || 'left',
      verticalAlign: 'middle', textVerticalAlign: 'middle'}};
}
function legendBox(x, y, w, h) {
  return {type: 'rect', z: 55, silent: true, shape: {x: x, y: y, width: w, height: h, r: 10},
    style: {fill: 'rgba(255,255,255,0.8)', stroke: '#d0d0d0', lineWidth: 2.5}};
}
function legendLine(x1, x2, y, color) {
  return {type: 'line', z: 56, silent: true, shape: {x1: x1, y1: y, x2: x2, y2: y},
    style: {stroke: color, lineWidth: 5}};
}
function legendDots(pts, color) {
  return pts.map(p => ({type: 'circle', z: 56, silent: true, shape: {cx: p[0], cy: p[1], r: 5.5},
    style: {fill: rgba(color, 0.5), stroke: rgba(color, 0.6), lineWidth: 2}}));
}

const graphics = [].concat(
  // title badge
  [{type: 'rect', z: 58, silent: true, shape: {x: 766, y: 12, width: 581, height: 169, r: 62},
    style: {fill: '#3d3c41'}},
   txt(1056, 98, 'BLACK HOLE', 60, {family: "Lato,'Open Sans',sans-serif", fill: '#ffffff', align: 'center', weight: 500})],
  // lens mass annotation
  [txt(906, 316, '\u223C', 96, {family: "'DejaVu Serif',serif"}),
   txt(1010, 307, '8', 94),
   txt(1057, 307, 'M', 94, {italic: true, scaleX: 1.2}),
   txt(1177, 339, '\u2299', 56, {family: "'DejaVu Sans',sans-serif", align: 'center'})],
  // axis titles
  [txt(76, 325, 'W149 [mag]', 57, {rotation: Math.PI / 2, align: 'center'}),
   txt(100, 835, '\u0394 Dec [mas]', 57, {rotation: Math.PI / 2, align: 'center'}),
   txt(100, 1345, '\u0394 RA [mas]', 57, {rotation: Math.PI / 2, align: 'center'}),
   txt(1130, 1681, 'HJD-2460000', 57, {align: 'center'})],
  // legend: photometry
  [legendBox(1419, 106, 591, 162), legendLine(1436, 1542, 147, '#000'),
   txt(1576, 150, 'Photometric model', 53), txt(1576, 224, 'RST mock data', 53)],
  legendDots([[1452, 224], [1488, 218], [1522, 226]], GRAY),
  // legend: north
  [legendBox(844, 612, 576, 144), legendLine(858, 950, 647, RED),
   txt(984, 652, 'Astrometric model (N)', 46), txt(984, 716, 'RST mock data', 46)],
  legendDots([[874, 717], [904, 713], [934, 719]], RED),
  // legend: east
  [legendBox(846, 1121, 574, 143), legendLine(860, 952, 1157, CYAN),
   txt(984, 1162, 'Astrometric model (E)', 46), txt(984, 1226, 'RST mock data', 46)],
  legendDots([[874, 1227], [906, 1222], [936, 1228]], CYAN)
);

const option = {
  animation: false,
  backgroundColor: '#ffffff',
  grid: PANELS.map(p => ({left: GRID_LEFT, width: GRID_W, top: p.top, height: p.height, containLabel: false})),
  xAxis: [].concat(xAxesFor(0, false), xAxesFor(1, false), xAxesFor(2, true)),
  yAxis: [].concat(
    yAxesFor(0, magRange, magMajor, magMinor, true, magFmt),
    yAxesFor(1, decRange, masMajor, decMinor, false, masFmt),
    yAxesFor(2, raRange, masMajor, raMinor, false, masFmt)),
  series: [
    scatterSeries(0, obsMag, GRAY, 2),
    modelSeries(0, modelMag, '#000', 4.5, 3),
    modelSeries(1, modelDec, RED, 4, 2),
    scatterSeries(1, obsDec, RED, 3),
    modelSeries(2, modelRa, CYAN, 4, 2),
    scatterSeries(2, obsRa, CYAN, 3)
  ],
  graphic: {elements: graphics}
};

const chart = echarts.init(document.getElementById('chart'), null, {renderer: 'canvas', width: 2034, height: 1706});
chart.setOption(option);
</script>
</body>
</html>
